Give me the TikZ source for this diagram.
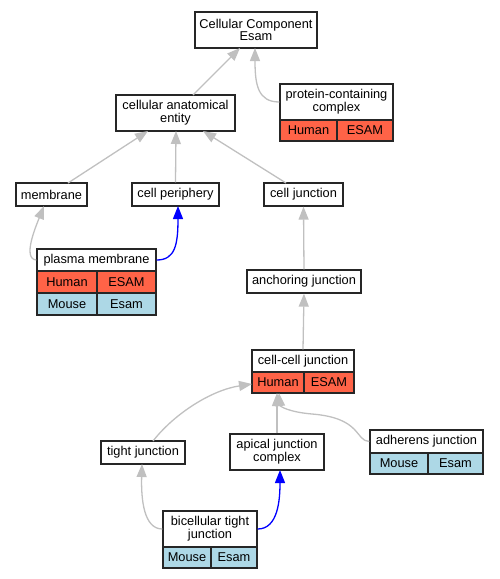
\documentclass[tikz,border=0pt]{standalone}
\usepackage{fontspec}
\setmainfont{Liberation Sans}
\usetikzlibrary{arrows.meta}
\definecolor{hum}{HTML}{FF6347}
\definecolor{mou}{HTML}{ADD8E6}
\definecolor{edg}{HTML}{C0C0C0}
\begin{document}
\begin{tikzpicture}[x=1pt,y=-1pt,
  box/.style={draw=black!85,line width=1.3pt,inner sep=0pt,align=center,font=\fontsize{12.8}{12.8}\selectfont},
  hbox/.style={box,fill=hum},
  mbox/.style={box,fill=mou},
  arr/.style={draw=edg,line width=1.3pt,-{Triangle[length=13pt,width=10pt]}},
  barr/.style={draw=blue,line width=1.3pt,-{Triangle[length=13pt,width=10pt]}}]
\useasboundingbox (0,0) rectangle (499,579);
% nodes
\node[box,minimum width=122,minimum height=36] (cc) at (256,30) {Cellular Component\\Esam};
\node[box,minimum width=119,minimum height=36] (cae) at (175.5,113) {cellular anatomical\\entity};
\node[box,minimum width=113,minimum height=36] (pcc) at (336.5,102) {protein-containing\\complex};
\node[hbox,minimum width=57,minimum height=21] (pcch) at (308.5,130.5) {Human};
\node[hbox,minimum width=56,minimum height=21] (pccg) at (365,130.5) {ESAM};
\node[box,minimum width=71,minimum height=23] (mem) at (51.5,194.5) {membrane};
\node[box,minimum width=87,minimum height=23] (cp) at (175.5,194.5) {cell periphery};
\node[box,minimum width=79,minimum height=23] (cj) at (303.5,194.5) {cell junction};
\node[box,minimum width=119,minimum height=22] (pm) at (96.5,260) {plasma membrane};
\node[hbox,minimum width=60,minimum height=22] (pmh) at (67,282) {Human};
\node[hbox,minimum width=59,minimum height=22] (pmhg) at (126.5,282) {ESAM};
\node[mbox,minimum width=60,minimum height=22] (pmm) at (67,304) {Mouse};
\node[mbox,minimum width=59,minimum height=22] (pmmg) at (126.5,304) {Esam};
\node[box,minimum width=114,minimum height=23] (aj) at (304,281.5) {anchoring junction};
\node[box,minimum width=102,minimum height=22] (ccj) at (303,361) {cell-cell junction};
\node[hbox,minimum width=52,minimum height=21] (ccjh) at (278,382.5) {Human};
\node[hbox,minimum width=50,minimum height=21] (ccjg) at (329,382.5) {ESAM};
\node[box,minimum width=84,minimum height=23] (tj) at (143,452.5) {tight junction};
\node[box,minimum width=94,minimum height=36] (ajc) at (277,452) {apical junction\\complex};
\node[box,minimum width=113,minimum height=23] (adh) at (426.5,441.5) {adherens junction};
\node[mbox,minimum width=58,minimum height=21] (adhm) at (399,463.5) {Mouse};
\node[mbox,minimum width=55,minimum height=21] (adhg) at (455.5,463.5) {Esam};
\node[box,minimum width=94,minimum height=36] (btj) at (210,529) {bicellular tight\\junction};
\node[mbox,minimum width=48,minimum height=21] (btjm) at (187,557.5) {Mouse};
\node[mbox,minimum width=46,minimum height=21] (btjg) at (234,557.5) {Esam};
% target coordinates
\coordinate (ccA) at (240,48);
\coordinate (ccB) at (255,48);
\coordinate (caeA) at (148,131);
\coordinate (caeB) at (176,131);
\coordinate (caeC) at (203,131);
\coordinate (memA) at (44,206);
\coordinate (cpA) at (178,206);
\coordinate (ccjA) at (252,384);
\coordinate (ccjB) at (277,393);
\coordinate (ccjC) at (279,393);
\coordinate (tjA) at (142,464);
\coordinate (ajcA) at (280,470);
% edges
\draw[arr] (193,95) -- (ccA);
\draw[arr] (pcc.west) .. controls (258,102) and (255,85) .. (ccB);
\draw[arr] (68,183) -- (caeA);
\draw[arr] (cp.north) -- (caeB);
\draw[arr] (286,183) -- (caeC);
\draw[arr] (pm.west) .. controls (22,259) and (36,226) .. (memA);
\draw[barr] (pm.east) .. controls (175,260) and (178,245) .. (cpA);
\draw[arr] (aj.north) -- (cj.south);
\draw[arr] (ccj.north) -- (aj.south);
\draw[arr] (153,441) .. controls (175,413) and (212,390) .. (ccjA);
\draw[arr] (ajc.north) -- (ccjB);
\draw[arr] (adh.west) .. controls (355,441) and (362,418) .. (312,414) .. controls (288,412) and (280,406) .. (ccjC);
\draw[arr] (btj.west) .. controls (144,529) and (141,500) .. (tjA);
\draw[barr] (btj.east) .. controls (278,529) and (280,500) .. (ajcA);
\end{tikzpicture}
\end{document}
